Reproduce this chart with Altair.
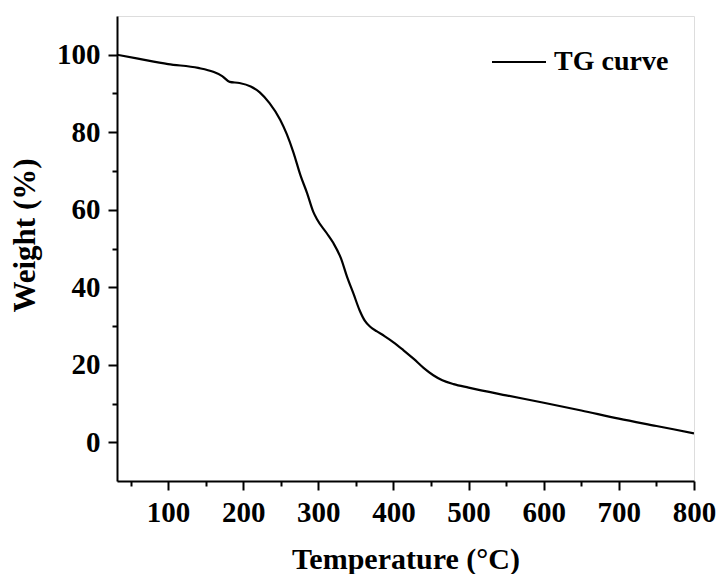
import altair as alt
import pandas as pd

# Thermogravimetric curve: temperature (°C) vs residual weight (%)
temperature = [32, 60, 100, 140, 160, 172, 182, 195, 210, 222, 235, 249, 258, 267,
               276, 285, 293, 298, 311, 320, 330, 338, 347, 355, 362, 369, 378, 388,
               400, 413, 427, 440, 453, 465, 480, 500, 550, 600, 650, 700, 750, 800]
weight = [100.0, 99.0, 97.6, 96.6, 95.6, 94.5, 93.0, 92.7, 91.8, 90.3, 87.5, 83.3,
          79.5, 74.7, 69.0, 64.3, 59.6, 57.6, 54.0, 51.4, 47.5, 42.8, 38.2, 34.0,
          31.3, 29.8, 28.6, 27.4, 25.8, 23.8, 21.5, 19.2, 17.3, 16.0, 15.0, 14.1,
          12.1, 10.2, 8.2, 6.1, 4.2, 2.3]
series_name = "TG curve"

x_ticks = list(range(50, 801, 50))
y_ticks = list(range(0, 101, 10))

df = pd.DataFrame({"T": temperature, "W": weight, "series": series_name})

FONT = "Liberation Serif"

x_axis = alt.Axis(
    values=x_ticks,
    labelExpr="datum.value % 100 === 0 ? datum.label : ''",
    tickSize={"condition": {"test": "datum.value % 100 === 0", "value": 9}, "value": 5},
    tickWidth=2, tickColor="black",
    domainWidth=2, domainColor="black",
    labelFont=FONT, labelFontSize=29, labelFontWeight="bold", labelColor="black",
    labelPadding=8, labelFlush=False, labelOverlap=False, labelBound=False,
    grid=False,
    title="Temperature (°C)", titleFont=FONT, titleFontSize=30,
    titleFontWeight="bold", titleColor="black",
    titleY=87, titleBaseline="alphabetic",
)

y_axis = alt.Axis(
    values=y_ticks,
    labelExpr="datum.value % 20 === 0 ? datum.label : ''",
    tickSize={"condition": {"test": "datum.value % 20 === 0", "value": 9}, "value": 5},
    tickWidth=2, tickColor="black",
    domainWidth=2, domainColor="black",
    labelFont=FONT, labelFontSize=29, labelFontWeight="bold", labelColor="black",
    labelPadding=8, labelFlush=False, labelOverlap=False, labelBound=False,
    grid=False,
    title="Weight (%)", titleFont=FONT, titleFontSize=31,
    titleFontWeight="bold", titleColor="black",
    titleX=-83, titleY=219, titleAngle=-90, titleAlign="center",
    titleBaseline="alphabetic",
)

chart = (
    alt.Chart(df)
    .mark_line(strokeWidth=2.2, interpolate="monotone", clip=True)
    .encode(
        x=alt.X("T:Q", scale=alt.Scale(domain=[32, 800], nice=False, zero=False), axis=x_axis),
        y=alt.Y("W:Q", scale=alt.Scale(domain=[-10, 110], nice=False, zero=False), axis=y_axis),
        color=alt.Color(
            "series:N",
            scale=alt.Scale(domain=[series_name], range=["black"]),
            legend=alt.Legend(
                title=None, orient="none", legendX=374, legendY=18,
                symbolType="stroke", symbolSize=2916, symbolStrokeWidth=2,
                labelFont=FONT, labelFontSize=28, labelFontWeight="bold",
                labelColor="black", labelOffset=7, padding=0,
            ),
        ),
    )
    .properties(
        width=577, height=465,
        autosize=alt.AutoSizeParams(type="none"),
        padding={"left": 117, "top": 16, "right": 25, "bottom": 93},
    )
    .configure_view(stroke="black", strokeWidth=2)
    .configure(background="white")
)

chart.save("out.html", embed_options={"renderer": "svg", "actions": False})
